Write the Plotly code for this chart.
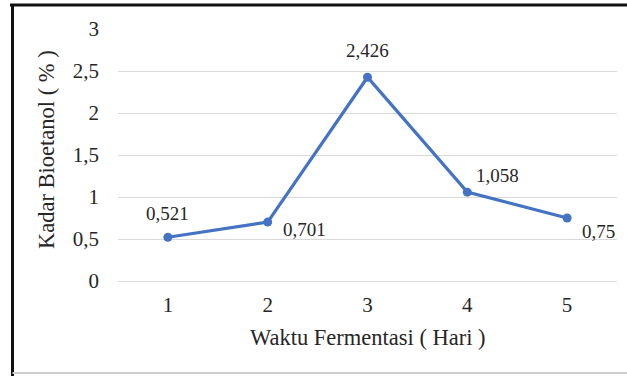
import plotly.graph_objects as go

# Fermentation time (days) and bioethanol content (%)
hari = [1, 2, 3, 4, 5]
kadar = [0.521, 0.701, 2.426, 1.058, 0.75]
y_ticks = [0, 0.5, 1, 1.5, 2, 2.5, 3]

W, H = 627, 376
L, R, T, B = 118, 10, 29, 95
PW, PH = W - L - R, H - T - B

def px_x(x):
    return (x - L) / PW

def px_y(y):
    return (H - B - y) / PH

BLUE = "#4472C4"
FONT = "Liberation Serif"

fig = go.Figure()
fig.add_trace(go.Scatter(
    x=hari, y=kadar, mode="lines+markers",
    line=dict(color=BLUE, width=3.2),
    marker=dict(color=BLUE, size=9),
    cliponaxis=False, hoverinfo="skip",
))

# value labels: (x shift, y shift) in pixels around each point
offsets = [(0, 24), (37, -7), (0, 27), (30, 17), (31, -13)]
for xv, yv, (dx, dy) in zip(hari, kadar, offsets):
    fig.add_annotation(
        x=xv, y=yv, xref="x", yref="y",
        text=f"{yv:g}".replace(".", ","),
        showarrow=False, xshift=dx, yshift=dy,
        font=dict(family=FONT, size=19, color="#262626"),
    )

# axis titles
fig.add_annotation(
    x=px_x(46), y=px_y(150), xref="paper", yref="paper",
    xanchor="center", yanchor="middle",
    text="Kadar Bioetanol ( % )", textangle=-90, showarrow=False,
    font=dict(family=FONT, size=22.5, color="#262626"),
)
fig.add_annotation(
    x=0.5, y=px_y(337), xref="paper", yref="paper",
    xanchor="center", yanchor="middle",
    text="Waktu Fermentasi ( Hari )", showarrow=False,
    font=dict(family=FONT, size=22.5, color="#262626"),
)

# outer frame
fig.add_shape(type="line", xref="paper", yref="paper",
              x0=px_x(10), x1=px_x(W), y0=px_y(5), y1=px_y(5),
              line=dict(color="#111111", width=3))
fig.add_shape(type="line", xref="paper", yref="paper",
              x0=px_x(12.5), x1=px_x(12.5), y0=px_y(4), y1=px_y(H),
              line=dict(color="#111111", width=3))
fig.add_shape(type="line", xref="paper", yref="paper",
              x0=px_x(12.5), x1=px_x(W), y0=px_y(373), y1=px_y(373),
              line=dict(color="#CFCFCF", width=2))

fig.update_layout(
    width=W, height=H,
    margin=dict(l=L, r=R, t=T, b=B),
    paper_bgcolor="white", plot_bgcolor="white",
    showlegend=False, separators=",.",
    xaxis=dict(
        range=[0.5, 5.5], tickvals=hari, showgrid=False, zeroline=False,
        showline=True, linecolor="#D9D9D9", linewidth=1,
        ticks="", ticklabelstandoff=5,
        tickfont=dict(family=FONT, size=21, color="#262626"),
    ),
    yaxis=dict(
        range=[0, 3], tickvals=y_ticks, showgrid=True,
        gridcolor="#D9D9D9", gridwidth=1, zeroline=False,
        ticks="", ticklabelstandoff=18,
        tickfont=dict(family=FONT, size=21, color="#262626"),
    ),
)

fig.write_html("out.html")
